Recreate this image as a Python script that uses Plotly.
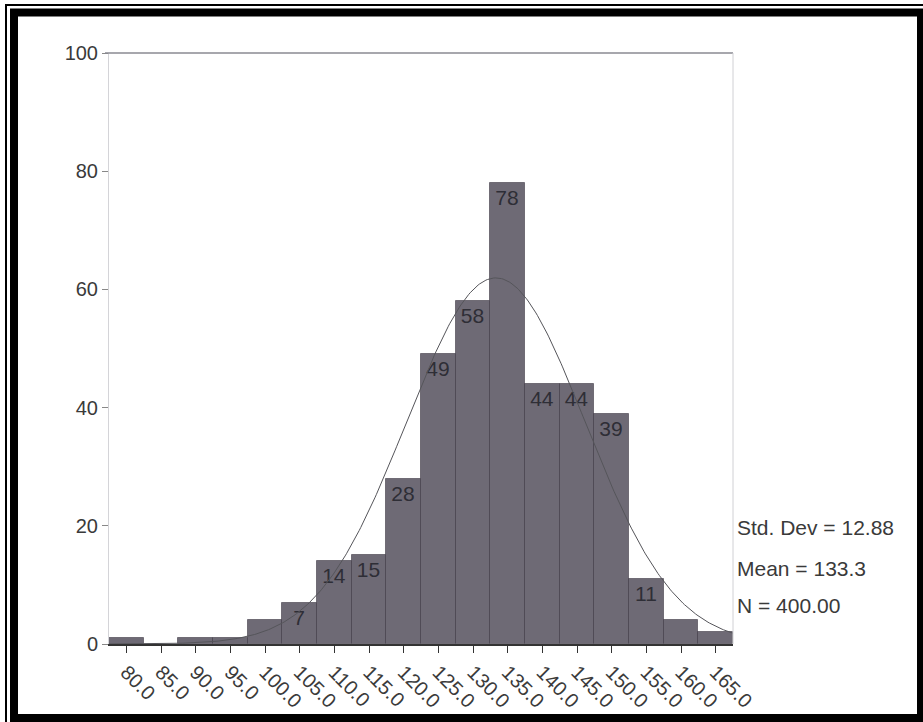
import numpy as np
import plotly.graph_objects as go

# ---- data ----
bin_labels = ["80.0", "85.0", "90.0", "95.0", "100.0", "105.0", "110.0", "115.0", "120.0",
              "125.0", "130.0", "135.0", "140.0", "145.0", "150.0", "155.0", "160.0", "165.0"]
bin_mids = [80, 85, 90, 95, 100, 105, 110, 115, 120, 125, 130, 135, 140, 145, 150, 155, 160, 165]
counts = [1, 0, 1, 1, 4, 7, 14, 15, 28, 49, 58, 78, 44, 44, 39, 11, 4, 2]
bar_text = ["", "", "", "", "", "7", "14", "15", "28", "49", "58", "78", "44", "44", "39", "11", "", ""]
std_dev = 12.88
mean = 133.3
n_total = 400
bin_width = 5
y_ticks = [0, 20, 40, 60, 80, 100]

# geometry (pixels) of the plot box
W, H = 923, 722
L, R, T, B = 109, 733, 53, 644

FONT = "Arial, Liberation Sans, sans-serif"
TXT = "#3a3a3a"

pos = list(range(len(bin_mids)))

# fitted normal curve from stated stats
xv = np.linspace(bin_mids[0] - bin_width / 2, bin_mids[-1] + bin_width / 2, 400)
yv = n_total * bin_width / (std_dev * np.sqrt(2 * np.pi)) * np.exp(-0.5 * ((xv - mean) / std_dev) ** 2)
xpos = (xv - bin_mids[0]) / bin_width

fig = go.Figure()
fig.add_trace(go.Bar(
    x=pos, y=counts, width=1.0,
    marker=dict(color="rgb(110,106,117)",
                line=dict(color="rgba(55,50,62,0.55)", width=[0 if c == 0 else 1 for c in counts])),
    text=bar_text, textposition="inside", insidetextanchor="end",
    textangle=0, constraintext="none",
    textfont=dict(family=FONT, size=21, color="#2e2e36"),
    hoverinfo="skip", showlegend=False,
))
fig.add_trace(go.Scatter(
    x=xpos, y=yv, mode="lines",
    line=dict(color="#55555a", width=1),
    hoverinfo="skip", showlegend=False,
))

def px_x(p):
    return (p - L) / (R - L)

def px_y(p):
    return (B - p) / (B - T)

shapes = [
    # top border of plot (100 line)
    dict(type="line", xref="paper", yref="paper", x0=px_x(105), x1=1, y0=1, y1=1,
         line=dict(color="#8a8a92", width=1.5)),
    # right border
    dict(type="line", xref="paper", yref="paper", x0=1, x1=1, y0=0, y1=1,
         line=dict(color="#d0d0d4", width=1)),
    # outer thin frame line
    dict(type="rect", xref="paper", yref="paper",
         x0=px_x(6), x1=px_x(930), y0=px_y(5), y1=px_y(730),
         line=dict(color="black", width=2)),
    # thick inner frame
    dict(type="rect", xref="paper", yref="paper",
         x0=px_x(14), x1=px_x(921), y0=px_y(12.5), y1=px_y(718),
         line=dict(color="black", width=8)),
]

stats = [("Std. Dev = 12.88", 527), ("Mean = 133.3", 568), ("N = 400.00", 605)]
annotations = [
    dict(text=t, xref="paper", yref="paper", x=px_x(735), y=px_y(yy),
         xanchor="left", yanchor="middle", showarrow=False,
         font=dict(family=FONT, size=21, color=TXT))
    for t, yy in stats
]

fig.update_layout(
    width=W, height=H,
    margin=dict(l=L, r=W - R, t=T, b=H - B, pad=0),
    paper_bgcolor="white", plot_bgcolor="white",
    bargap=0,
    shapes=shapes, annotations=annotations,
    xaxis=dict(
        range=[-0.5, len(bin_mids) - 0.5],
        tickmode="array", tickvals=pos, ticktext=bin_labels,
        tickangle=45, ticks="outside", ticklen=7, tickcolor="#333",
        tickfont=dict(family=FONT, size=20, color=TXT),
        showline=True, linecolor="#333", linewidth=1.5,
        showgrid=False, zeroline=False, automargin=False,
    ),
    yaxis=dict(
        range=[0, 100],
        tickmode="array", tickvals=y_ticks, ticktext=[str(v) for v in y_ticks],
        ticks="outside", ticklen=6, tickcolor="#888",
        tickfont=dict(family=FONT, size=20, color=TXT),
        showline=True, linecolor="#d4d4d8", linewidth=1,
        showgrid=False, zeroline=False, automargin=False,
    ),
)

fig.write_html("out.html", config={"displayModeBar": False},
               post_script="document.body.style.margin='0';document.body.style.overflow='hidden';")
